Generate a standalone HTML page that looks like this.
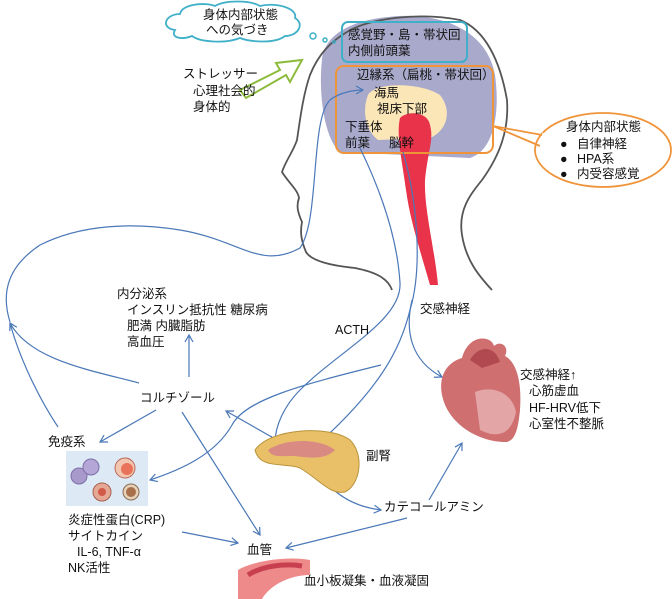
<!DOCTYPE html>
<html><head><meta charset="utf-8"><style>
html,body{margin:0;padding:0;background:#fff;}
svg{display:block;}
text{font-family:"Liberation Sans","Noto Sans CJK JP",sans-serif;font-size:12.5px;fill:#111;}
</style></head><body>
<svg width="672" height="599" viewBox="0 0 672 599" xmlns="http://www.w3.org/2000/svg">
<defs>
<marker id="a" markerWidth="10" markerHeight="10" refX="8" refY="5" orient="auto" markerUnits="userSpaceOnUse">
<path d="M1,1 L8,5 L1,9" fill="none" stroke="#4a78b8" stroke-width="1.2"/></marker>
</defs>
<!-- brain -->
<path d="M322,60 C325,30 360,18 400,16 C450,14 488,35 495,75 C500,110 495,150 470,158 L340,152 C325,140 318,95 322,60 Z" fill="#a9a9cc"/>
<!-- head outline -->
<path d="M347,32 C330,42 318,55 310,75 C303,95 300,120 297,140 C293,152 286,160 282,172 C288,182 298,190 299,198 C296,206 298,213 302,222 C300,232 301,240 306,252 C312,262 335,266 355,268 C375,272 388,278 392,290" fill="none" stroke="#555" stroke-width="1.8"/>
<path d="M347,32 C370,18 420,12 460,20 C485,30 500,60 507,100 C509,130 500,155 482,180 C470,195 458,210 462,235 C466,260 478,275 492,290" fill="none" stroke="#555" stroke-width="1.8"/>
<!-- cream -->
<path d="M368,95 C375,82 420,82 440,95 C452,110 448,130 430,138 L378,140 C365,130 362,110 368,95 Z" fill="#fbe6b8"/>
<!-- brainstem -->
<path d="M400,118 C408,110 428,112 430,125 C434,140 428,150 425,180 C424,210 435,250 438,285 L430,285 C420,250 410,220 406,190 C402,160 396,135 400,118 Z" fill="#e8334a"/>
<!-- cyan box -->
<rect x="342" y="22" width="125" height="40" rx="6" fill="none" stroke="#3fb0c8" stroke-width="2"/>
<text x="348" y="39">感覚野・島・帯状回</text>
<text x="348" y="55">内側前頭葉</text>
<!-- orange box -->
<rect x="336" y="66" width="157" height="87" rx="8" fill="none" stroke="#f0943a" stroke-width="2"/>
<text x="357" y="79">辺縁系（扁桃・帯状回）</text>
<text x="374" y="97">海馬</text>
<text x="377" y="113">視床下部</text>
<text x="345" y="131">下垂体</text>
<text x="345" y="147">前葉</text>
<text x="389" y="147">脳幹</text>
<!-- callout -->
<ellipse cx="603" cy="150" rx="68" ry="37" fill="#fff" stroke="#f0943a" stroke-width="1.8"/>
<path d="M493,126 L542,135 M493,126 L540,146" stroke="#f0943a" stroke-width="1.8" fill="none"/>
<path d="M544,133 L541,148" stroke="#fff" stroke-width="3"/>
<text x="566" y="131">身体内部状態</text>
<text x="560" y="148">●</text><text x="577" y="148">自律神経</text>
<text x="560" y="163">●</text><text x="577" y="163">HPA系</text>
<text x="560" y="178">●</text><text x="577" y="178">内受容感覚</text>
<!-- thought cloud -->
<path d="M175,30 C160,28 165,14 180,14 C182,4 205,2 215,6 C225,0 250,0 260,6 C275,2 298,8 295,18 C305,24 298,36 285,36 C275,44 250,42 240,38 C225,44 200,42 192,36 C182,40 170,38 175,30 Z" fill="#fff" stroke="#3fb0c8" stroke-width="1.8"/>
<text x="203" y="19">身体内部状態</text>
<text x="206" y="34">への気づき</text>
<circle cx="313" cy="36" r="3" fill="none" stroke="#3fb0c8" stroke-width="1.5"/>
<circle cx="325" cy="40" r="2" fill="none" stroke="#3fb0c8" stroke-width="1.5"/>
<circle cx="334" cy="42" r="1.3" fill="none" stroke="#3fb0c8" stroke-width="1.2"/>
<!-- green arrow -->
<path d="M240,90 L280,70 L276,63 L302,60 L290,82 L286,75 L246,98 Z" fill="#fff" stroke="#8dbb3c" stroke-width="2"/>
<text x="183" y="78">ストレッサー</text>
<text x="193" y="95">心理社会的</text>
<text x="193" y="111">身体的</text>
<!-- blue connectors -->
<g fill="none" stroke="#4a78b8" stroke-width="1.2">
<path d="M10,322 C0,290 10,265 40,245 C80,225 130,222 180,230 C240,240 260,270 300,248 C320,220 310,120 330,100 C340,92 355,90 363,90" marker-end="url(#a)"/>
<path d="M139,383 C90,370 30,360 10,323" marker-end="url(#a)"/>
<path d="M58,427 C40,400 20,360 10,323"/>
<path d="M189,377 L189,335" marker-end="url(#a)"/>
<path d="M156,410 L100,442" marker-end="url(#a)"/>
<path d="M182,412 L260,535" marker-end="url(#a)"/>
<path d="M277,440 L226,411" marker-end="url(#a)"/>
<path d="M360,148 C377,183 397,233 400,283 C402,320 340,350 300,390 C285,405 275,425 275,443" marker-end="url(#a)"/>
<path d="M403,152 C417,200 423,267 410,310 C400,350 380,390 308,453" marker-end="url(#a)"/>
<path d="M412,300 C405,330 410,360 442,377" marker-end="url(#a)"/>
<path d="M381,365 C300,385 245,400 232,425 C215,455 180,470 150,480" marker-end="url(#a)"/>
<path d="M308,453 C320,480 340,505 381,510" marker-end="url(#a)"/>
<path d="M429,500 L462,443" marker-end="url(#a)"/>
<path d="M407,518 L286,548" marker-end="url(#a)"/>
<path d="M182,532 L238,543" marker-end="url(#a)"/>
</g>
<!-- texts bottom -->
<text x="117" y="298">内分泌系</text>
<text x="127" y="314">インスリン抵抗性  糖尿病</text>
<text x="127" y="330">肥満  内臓脂肪</text>
<text x="127" y="346">高血圧</text>
<text x="140" y="402">コルチゾール</text>
<text x="48" y="446">免疫系</text>
<text x="68" y="524">炎症性蛋白(CRP)</text>
<text x="68" y="540">サイトカイン</text>
<text x="77" y="556">IL-6, TNF-α</text>
<text x="68" y="572">NK活性</text>
<text x="335" y="334">ACTH</text>
<text x="420" y="313">交感神経</text>
<text x="366" y="460">副腎</text>
<text x="384" y="511">カテコールアミン</text>
<text x="247" y="554">血管</text>
<text x="304" y="585">血小板凝集・血液凝固</text>
<text x="520" y="379">交感神経↑</text>
<text x="529" y="395">心筋虚血</text>
<text x="529" y="412">HF-HRV低下</text>
<text x="529" y="428">心室性不整脈</text>
<!-- immune cells -->
<rect x="66" y="451" width="82" height="55" fill="#dde9f5"/>
<circle cx="79" cy="476" r="8" fill="#a99acc" stroke="#7d6fa8"/>
<circle cx="91" cy="467" r="8" fill="#b4a6d6" stroke="#7d6fa8"/>
<circle cx="125" cy="468" r="10" fill="#f2c6b0" stroke="#b86a5a"/>
<circle cx="127" cy="469" r="6" fill="#e8735a"/>
<circle cx="102" cy="492" r="9" fill="#e5a894" stroke="#a86050"/>
<circle cx="102" cy="492" r="4" fill="#d05a48"/>
<circle cx="131" cy="492" r="8" fill="#e6d2b8" stroke="#8a6a50"/>
<circle cx="131" cy="492" r="5" fill="#a8704a"/>
<!-- heart -->
<path d="M472,342 C480,336 492,338 494,346 C500,340 510,346 505,356 C516,362 522,380 520,410 C518,430 515,442 505,442 C480,442 448,425 442,395 C438,375 448,362 462,358 C464,350 468,345 472,342 Z" fill="#cf6f70"/>
<path d="M470,360 C478,345 495,345 500,362 L482,368 Z" fill="#b04a50"/>
<path d="M475,392 C492,385 512,392 516,412 C512,432 500,440 480,430 Z" fill="#e3a5a6"/>
<!-- adrenal -->
<path d="M255,450 C270,428 330,425 350,440 C365,455 360,485 345,492 C330,495 320,480 300,468 C285,462 260,470 255,450 Z" fill="#e9c068" stroke="#b8933a"/>
<path d="M268,450 C285,438 320,438 335,450 C325,460 310,458 295,456 C280,456 272,458 268,450 Z" fill="#d98a82"/>
<!-- vessel -->
<path d="M238,570 C255,560 290,556 310,560 L310,575 C290,575 270,585 262,599 L238,599 Z" fill="#ee8a8a"/>
<path d="M248,575 C262,566 285,563 302,566" stroke="#c84050" stroke-width="5" fill="none"/>
</svg>
</body></html>
